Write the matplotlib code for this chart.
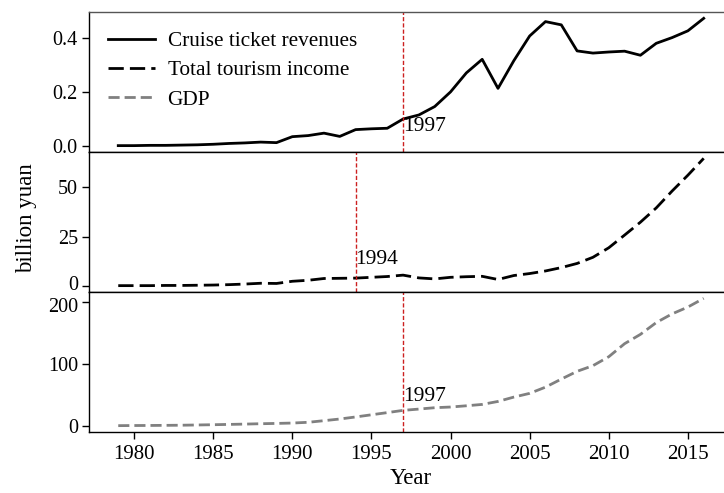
import matplotlib
matplotlib.use('Agg')
from matplotlib import pyplot as plt
from matplotlib import transforms
import numpy as np

plt.rcParams['font.family'] = ['Liberation Serif', 'DejaVu Serif']
plt.rcParams['font.size'] = 15

years = list(range(1979, 2017))

cruise = [0.002, 0.002, 0.003, 0.003, 0.004, 0.005, 0.007, 0.010, 0.012, 0.015,
          0.013, 0.035, 0.039, 0.048, 0.036, 0.061, 0.064, 0.066, 0.100, 0.115,
          0.146, 0.200, 0.270, 0.320, 0.213, 0.315, 0.406, 0.459, 0.447, 0.351,
          0.343, 0.347, 0.350, 0.335, 0.379, 0.400, 0.425, 0.471]

tourism = [0.3, 0.3, 0.3, 0.4, 0.4, 0.5, 0.6, 0.8, 1.1, 1.5,
           1.4, 2.5, 3.0, 3.9, 4.0, 4.1, 4.5, 4.9, 5.6, 4.2,
           3.7, 4.5, 4.8, 5.0, 3.4, 5.4, 6.4, 7.7, 9.4, 11.5,
           14.6, 19.4, 25.8, 32.3, 39.5, 48.0, 56.0, 64.5]

gdp = [1.0, 1.2, 1.3, 1.5, 1.7, 2.1, 2.5, 3.0, 3.5, 4.1,
       4.6, 5.2, 6.4, 9.0, 11.7, 15.0, 18.5, 22.0, 25.6, 27.7,
       29.9, 31.0, 33.0, 35.2, 40.0, 47.0, 53.0, 63.0, 76.0, 88.5,
       97.6, 112.0, 133.0, 148.0, 167.0, 181.0, 192.0, 206.0]

labels = ['Cruise ticket revenues', 'Total tourism income', 'GDP']
mark_years = [1997, 1994, 1997]
mark_text_y = [0.038, 8.5, 33.0]

fig = plt.figure(figsize=(7.24, 4.93), dpi=100)
gs = fig.add_gridspec(3, 1, left=0.1229, right=1.0124, top=0.9757, bottom=0.1237, hspace=0)
ax1 = fig.add_subplot(gs[0])
ax2 = fig.add_subplot(gs[1], sharex=ax1)
ax3 = fig.add_subplot(gs[2], sharex=ax1)
axes = [ax1, ax2, ax3]

l1, = ax1.plot(years, cruise, color='black', lw=2, linestyle='-')
l2, = ax2.plot(years, tourism, color='black', lw=2, linestyle=(0, (5.5, 2.2)))
l3, = ax3.plot(years, gdp, color='#808080', lw=2, linestyle=(0, (4, 1.8)))

for ax, yr, ty in zip(axes, mark_years, mark_text_y):
    ax.axvline(yr, color='#cc2020', lw=1, linestyle=(0, (3, 1.5)))
    ax.text(yr, ty, str(yr), ha='left', va='bottom', fontsize=15.5)
    ax.tick_params(axis='both', direction='out', length=5, width=1, labelsize=14.5, pad=3)
    for s in ax.spines.values():
        s.set_linewidth(1)

ax1.set_yticks([0.0, 0.2, 0.4])
ax2.set_yticks([0, 25, 50])
ax3.set_yticks([0, 100, 200])
ax1.spines['top'].set_color('#555555')

plt.setp(ax1.get_xticklabels(), visible=False)
plt.setp(ax2.get_xticklabels(), visible=False)
ax1.tick_params(axis='x', length=0)
ax2.tick_params(axis='x', length=0)
ax3.set_xticks([1980, 1985, 1990, 1995, 2000, 2005, 2010, 2015])
ax3.tick_params(axis='x', labelsize=15, pad=4)
ax3.set_xlabel('Year', fontsize=16.5, labelpad=3)

# labels at the panel joins sit very close, nudge them apart a little
fig.canvas.draw()
up = transforms.ScaledTranslation(0, 2 / 72, fig.dpi_scale_trans)
down = transforms.ScaledTranslation(0, -2 / 72, fig.dpi_scale_trans)
lab = ax2.get_yticklabels()[0]
lab.set_transform(lab.get_transform() + up)
lab = ax3.get_yticklabels()[-1]
lab.set_transform(lab.get_transform() + down)

ax1.legend([l1, l2, l3], labels, loc='upper left', frameon=False, fontsize=15.3,
           handlelength=2.2, handletextpad=0.6, borderaxespad=0.5, labelspacing=0.45,
           borderpad=0.4)

fig.text(0.037, 0.558, 'billion yuan', rotation=90, ha='center', va='center', fontsize=16.5)

plt.savefig('out.png', dpi=100)
